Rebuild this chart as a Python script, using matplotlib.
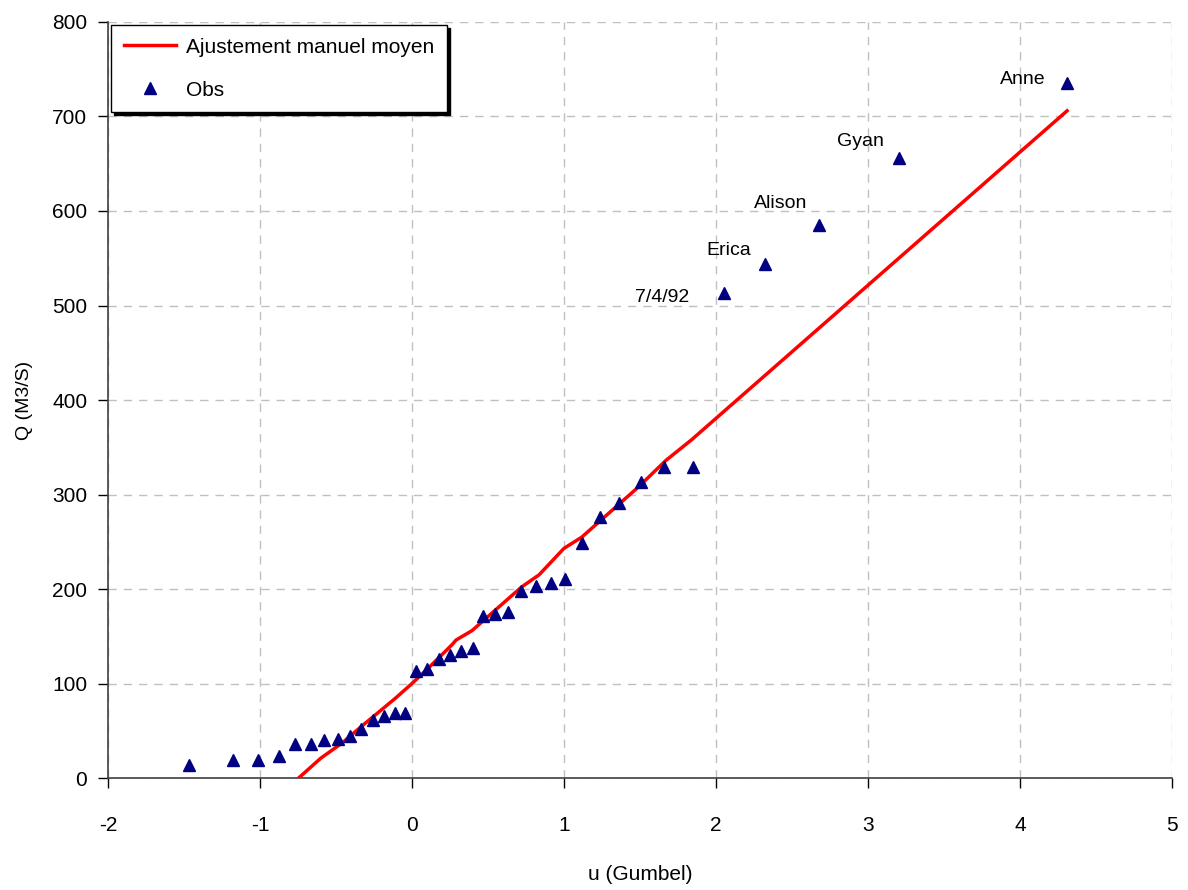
import matplotlib
matplotlib.use("Agg")
import matplotlib.pyplot as plt

plt.rcParams['font.family'] = ['Liberation Sans', 'DejaVu Sans']
plt.rcParams['axes.unicode_minus'] = False

# observations (Gumbel variate u, discharge Q)
obs_u = [-1.47, -1.18, -1.01, -0.875, -0.77, -0.664, -0.579, -0.487, -0.408, -0.336,
         -0.257, -0.184, -0.112, -0.046, 0.026, 0.099, 0.178, 0.25, 0.32, 0.40,
         0.47, 0.546, 0.63, 0.72, 0.816, 0.914, 1.007, 1.118, 1.237, 1.362,
         1.507, 1.658, 1.849, 2.053, 2.322, 2.678, 3.204, 4.309]
obs_q = [14, 19, 19, 23, 36, 36, 40, 41, 44, 52,
         61, 66, 69, 69, 113, 115, 126, 130, 134, 138,
         171, 174, 176, 198, 203, 206, 211, 249, 276, 291,
         313, 329, 329, 513, 544, 585, 656, 735]

# manual fit
fit_u = [-0.82, -0.76, -0.60, -0.46, -0.33, -0.217, -0.105, 0.0, 0.112, 0.263,
         0.29, 0.395, 0.72, 0.836, 1.0, 1.118, 1.23, 1.49, 1.67, 1.84, 4.31]
fit_q = [-8, -2, 21, 37, 55, 70, 85, 100, 117, 141,
         146, 156, 202, 215, 243, 255, 271, 308, 336, 358, 706]

labels = ["7/4/92", "Erica", "Alison", "Gyan", "Anne"]
label_idx = [33, 34, 35, 36, 37]
label_off = [(-35, -4), (-14, 13), (-12, 22), (-15, 17), (-21, 4)]

fig = plt.figure(figsize=(11.88, 8.90), dpi=100)
ax = fig.add_axes([0.0909, 0.1258, 0.8956, 0.8495])

ax.plot(fit_u, fit_q, color='red', lw=2.5, label='Ajustement manuel moyen', zorder=3)
ax.plot(obs_u, obs_q, '^', color='#000080', ms=9, ls='none', label='Obs', zorder=4)

for name, i, off in zip(labels, label_idx, label_off):
    ax.annotate(name, (obs_u[i], obs_q[i]), xytext=off, textcoords='offset pixels',
                ha='right', va='center', fontsize=14)

ax.set_xlim(-2, 5)
ax.set_ylim(0, 800)
ax.set_xticks(range(-2, 6))
ax.set_yticks(range(0, 801, 100))
ax.grid(True, ls=(0, (6, 5)), color='#c0c0c0', lw=1)
ax.set_axisbelow(True)
for s in ['top', 'right']:
    ax.spines[s].set_visible(False)
for s in ['left', 'bottom']:
    ax.spines[s].set_color('#404040')
    ax.spines[s].set_linewidth(1.2)
ax.tick_params(labelsize=15, direction='out', length=7, width=1, pad=8)
ax.tick_params(axis='x', pad=20)

ax.set_xlabel('u (Gumbel)', fontsize=15, labelpad=22)
ax.set_ylabel('Q (M3/S)', fontsize=14, labelpad=14)

leg = ax.legend(loc='upper left', bbox_to_anchor=(0.0, 1.0), borderaxespad=0.15,
                fontsize=15, frameon=True, fancybox=False,
                shadow={'color': 'black', 'alpha': 1}, borderpad=0.6,
                handlelength=2.5, handletextpad=0.5, labelspacing=1.15)
leg.get_frame().set_edgecolor('black')
leg.get_frame().set_linewidth(1)

fig.savefig('out.png', dpi=100)
